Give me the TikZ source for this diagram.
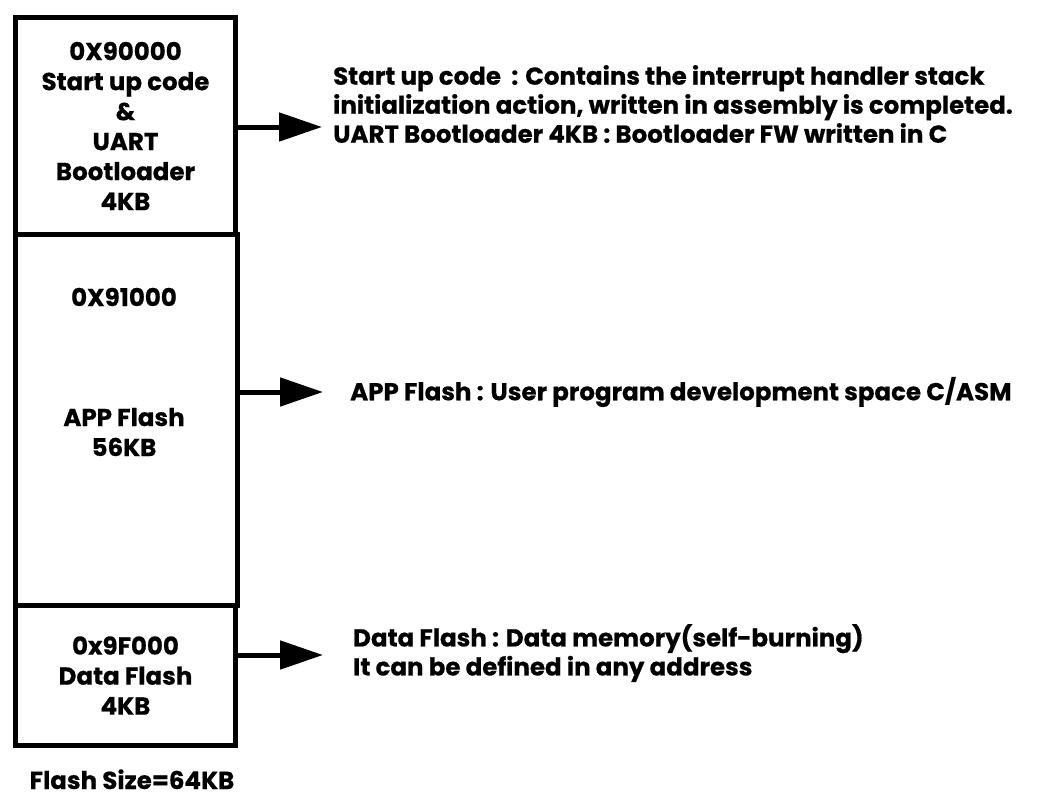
\documentclass[tikz,border=0pt]{standalone}
\usepackage{fontspec}
\setmainfont{Poppins}[BoldFeatures={FakeBold=0.6}]
\usetikzlibrary{arrows.meta,positioning}

\tikzset{
  memblock/.style={draw, line width=5pt, inner sep=0pt, anchor=north west},
  memtext/.style={align=center, font=\fontsize{24.5}{30}\selectfont\bfseries},
  note/.style={align=left, anchor=west, inner sep=0pt,
               font=\fontsize{24.5}{29}\selectfont\bfseries},
  pointer/.style={line width=5pt, -{Triangle[length=43pt,width=28pt]}}
}

\begin{document}
\begin{tikzpicture}[x=1pt,y=-1pt]
  \useasboundingbox (0,0) rectangle (1053,796);

  % the three flash regions
  \node[memblock, minimum width=220pt, minimum height=217pt] (boot) at (13,15) {};
  \node[memblock, minimum width=222pt, minimum height=371pt] (app)  at (13,232) {};
  \node[memblock, minimum width=220pt, minimum height=140pt] (data) at (13,603) {};

  \node[memtext] (boottext) at (boot.center)
    {0X90000\\Start up code\\\&\\UART\\Bootloader\\4KB};
  \node[memtext] (appaddr) at (124,297) {0X91000};
  \node[memtext] (apptext) at (124,432) {APP Flash\\56KB};
  \node[memtext] (datatext) at (data.center) {0x9F000\\Data Flash\\4KB};
  \node[memtext, anchor=base, inner sep=0pt] (size) at (132,789) {Flash Size=64KB};

  % arrow tips
  \coordinate (tip1) at (322,127);
  \coordinate (tip2) at (323,392);
  \coordinate (tip3) at (323,655);

  \draw[pointer] (boot.east |- tip1) -- (tip1);
  \draw[pointer] (app.east |- tip2)  -- (tip2);
  \draw[pointer] (data.east |- tip3) -- (tip3);

  % descriptions
  \node[note] (bootnote) at (333,104)
    {Start up code~ : Contains the interrupt handler stack\\
     initialization action, written in assembly is completed.\\
     UART Bootloader 4KB : Bootloader FW written in C};
  \node[note] (appnote) at (350,392)
    {APP Flash : User program development space C/ASM};
  \node[note] (datanote) at (353,653)
    {Data Flash : Data memory(self-burning)\\
     It can be defined in any address};
\end{tikzpicture}
\end{document}
